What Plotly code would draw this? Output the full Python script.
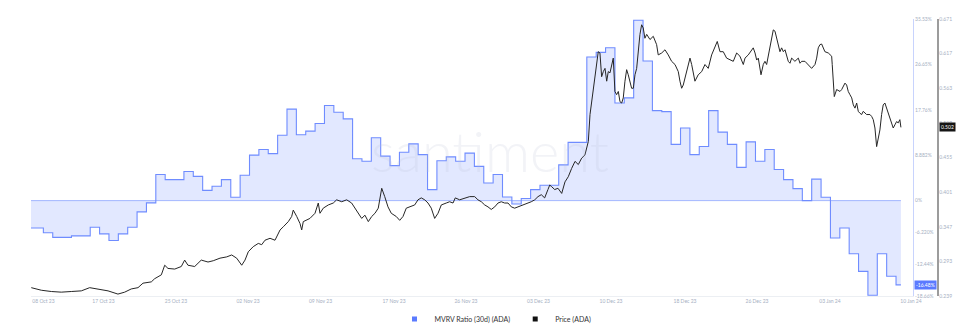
import pandas as pd
import plotly.graph_objects as go

# ---------------- data ----------------
START = pd.Timestamp("2023-10-10")          # day offset 0
MVRV_START = "2023-10-09"                    # first daily MVRV value

mvrv_values = [-5.35, -5.35, -6.3, -7.2, -7.2, -6.9, -6.9, -5.2, -6.5, -7.8, -6.5, -5.2, -2.2, -0.45,
               5.1, 4.1, 4.1, 5.7, 4.75, 2.0, 2.8, 4.1, 0.65, 4.95, 8.9, 10.0, 9.2, 12.8, 17.9, 12.9,
               13.6, 15.1, 18.6, 17.3, 16.0, 8.2, 7.7, 12.3, 8.7, 6.85, 9.45, 11.1, 9.0, 2.15, 7.8,
               8.55, 7.7, 9.3, 6.7, 3.45, 5.1, 0.7, -0.65, 0.4, 2.15, 3.0, 3.0, 7.0, 11.4, 11.4, 28.1,
               29.0, 29.9, 19.1, 20.1, 35.3, 27.3, 17.6, 17.4, 11.0, 14.2, 9.0, 10.6, 17.6, 13.4, 11.0,
               6.5, 11.5, 7.7, 10.0, 6.1, 4.1, 2.35, 0.0, 4.2, 0.65, -7.3, -5.35, -10.4, -13.85, -18.5,
               -10.4, -14.8, -16.48]

price_days = [
    -0.29, 0.78, 1.85, 2.91, 3.98, 5.05, 5.94, 6.83, 7.90, 8.96, 9.68, 10.38, 11.10, 11.63, 12.52,
    12.88, 13.59, 13.95, 14.30, 15.02, 15.72, 16.08, 16.43, 17.15, 17.85, 18.57,
    19.13, 19.85, 20.57, 21.10, 21.63, 22.17, 22.52, 22.87, 23.40, 23.94, 24.30, 24.65, 25.19, 25.72,
    26.26, 26.61, 27.14, 27.50, 27.67, 28.04, 28.39, 28.57, 28.74, 29.45, 29.99, 30.34, 30.52, 30.87,
    31.41, 31.94, 32.30, 32.84, 33.37, 33.90, 34.26, 34.61, 34.97, 35.32, 35.68, 36.04, 36.39, 36.74,
    37.11, 37.43,
    37.78, 38.13, 38.66, 39.03, 39.38, 39.73, 40.10, 40.63, 40.98, 41.33, 41.70, 42.05, 42.40, 42.76,
    43.12, 43.47, 44.00, 44.36, 44.72, 44.96, 45.43, 45.96, 46.50, 47.03, 47.38, 47.74, 48.10, 48.45,
    48.80, 49.17, 49.52, 49.87, 50.23, 50.59, 50.94, 51.30, 51.65, 52.01, 52.37, 52.72, 53.07, 53.44,
    53.79, 54.14, 54.50, 54.85, 55.04, 55.21, 55.57, 55.92, 56.32,
    56.67, 57.02, 57.38, 57.74, 58.09, 58.45, 58.80, 59.16, 59.34, 59.52, 59.69, 59.87, 60.05, 60.22,
    60.40, 60.58, 60.76, 60.94, 61.12, 61.29, 61.47, 61.65, 61.82, 62.00, 62.18, 62.36, 62.54, 62.72,
    62.89, 63.07, 63.25, 63.42, 63.60, 63.78, 63.96, 64.14, 64.32, 64.49, 64.67, 64.85, 65.02, 65.20,
    65.39, 65.74, 66.09, 66.45, 66.62, 66.99, 67.34, 67.69, 68.05, 68.41, 68.76, 68.94, 69.12, 69.29,
    69.66, 70.01, 70.19, 70.54, 70.89, 71.26, 71.61, 71.96, 72.32, 72.68, 72.92, 73.21, 73.56, 73.92,
    74.27, 74.63, 74.99, 75.34,
    75.70, 75.88, 76.23, 76.59, 76.76, 76.95, 77.13, 77.30, 77.48, 77.59, 77.83, 78.01, 78.19, 78.36,
    78.55, 78.73, 78.90, 79.08, 79.26, 79.43, 79.61, 79.79, 79.97, 80.15, 80.33, 80.50, 80.68, 80.86,
    81.21, 81.57, 81.75, 81.93, 82.28, 82.63, 82.99, 83.35, 83.53, 83.70, 83.88, 84.06, 84.23, 84.41,
    84.77, 85.13, 85.19, 85.30, 85.41, 85.66, 86.02, 86.20, 86.55, 86.73, 86.90, 87.08, 87.27, 87.44,
    87.62, 87.80, 87.97, 88.15, 88.33, 88.50, 88.86, 89.22, 89.40, 89.57, 89.75, 89.93, 90.10, 90.28,
    90.46, 90.63, 90.81, 90.99, 91.16, 91.35, 91.53, 91.70, 91.88, 92.06, 92.23, 92.41, 92.52]

price_values = [
    0.252, 0.248, 0.246, 0.245, 0.246, 0.247, 0.252, 0.250, 0.247, 0.242, 0.245, 0.250, 0.252, 0.259,
    0.261, 0.266, 0.272, 0.287, 0.282, 0.281, 0.285, 0.295, 0.287, 0.285, 0.295, 0.292,
    0.294, 0.298, 0.300, 0.303, 0.298, 0.287, 0.295, 0.308, 0.316, 0.321, 0.319, 0.326, 0.329, 0.326,
    0.342, 0.347, 0.355, 0.363, 0.373, 0.363, 0.352, 0.342, 0.355, 0.360, 0.368, 0.384, 0.368, 0.376,
    0.381, 0.384, 0.389, 0.386, 0.389, 0.384, 0.376, 0.368, 0.360, 0.365, 0.355, 0.363, 0.368, 0.376,
    0.407, 0.394,
    0.378, 0.368, 0.363, 0.357, 0.363, 0.376, 0.378, 0.381, 0.389, 0.392, 0.389, 0.384, 0.376, 0.360,
    0.368, 0.381, 0.384, 0.386, 0.384, 0.392, 0.389, 0.392, 0.394, 0.394, 0.389, 0.386, 0.381, 0.378,
    0.374, 0.378, 0.384, 0.386, 0.384, 0.384, 0.378, 0.376, 0.378, 0.380, 0.381, 0.384, 0.386, 0.389,
    0.394, 0.397, 0.392, 0.405, 0.412, 0.410, 0.405, 0.407, 0.399,
    0.417, 0.425, 0.438, 0.449, 0.444, 0.454, 0.459, 0.480, 0.522, 0.542, 0.553, 0.574, 0.600, 0.620,
    0.618, 0.581, 0.589, 0.594, 0.574, 0.589, 0.587, 0.600, 0.610, 0.558, 0.553, 0.558, 0.542, 0.540,
    0.548, 0.574, 0.592, 0.584, 0.574, 0.563, 0.563, 0.584, 0.594, 0.620, 0.647, 0.662, 0.657, 0.641,
    0.647, 0.639, 0.644, 0.631, 0.615, 0.618, 0.623, 0.615, 0.605, 0.600, 0.589, 0.574, 0.563, 0.568,
    0.589, 0.610, 0.600, 0.574, 0.584, 0.589, 0.600, 0.594, 0.615, 0.626, 0.636, 0.620, 0.620, 0.610,
    0.607, 0.605, 0.618, 0.613,
    0.600, 0.610, 0.615, 0.623, 0.626, 0.618, 0.607, 0.610, 0.594, 0.584, 0.600, 0.605, 0.600, 0.613,
    0.626, 0.636, 0.654, 0.652, 0.641, 0.626, 0.620, 0.626, 0.620, 0.623, 0.615, 0.605, 0.602, 0.610,
    0.605, 0.610, 0.602, 0.605, 0.605, 0.600, 0.594, 0.600, 0.610, 0.626, 0.631, 0.632, 0.626, 0.620,
    0.618, 0.613, 0.600, 0.574, 0.550, 0.561, 0.558, 0.561, 0.571, 0.568, 0.558, 0.553, 0.548, 0.537,
    0.532, 0.540, 0.527, 0.524, 0.522, 0.527, 0.522, 0.522, 0.519, 0.514, 0.501, 0.472, 0.485, 0.498,
    0.522, 0.537, 0.540, 0.532, 0.527, 0.519, 0.511, 0.501, 0.506, 0.511, 0.509, 0.514, 0.502]

x_tick_days = [1.01, 7.42, 15.15, 22.84, 30.58, 38.42, 46.10, 53.84, 61.58, 69.48, 77.16, 84.95, 93.60]
x_tick_text = ["08 Oct 23", "17 Oct 23", "25 Oct 23", "02 Nov 23", "09 Nov 23", "17 Nov 23",
               "26 Nov 23", "03 Dec 23", "10 Dec 23", "18 Dec 23", "26 Dec 23", "03 Jan 24", "10 Jan 24"]

mvrv_ticks = [-18.66, -12.44, -6.22, 0, 8.882, 17.76, 26.65, 35.53]
mvrv_tick_text = ["-18.66%", "-12.44%", "-6.220%", "0%", "8.882%", "17.76%", "26.65%", "35.53%"]
price_ticks = [0.239, 0.293, 0.347, 0.401, 0.455, 0.509, 0.563, 0.617, 0.671]

MVRV_NAME = "MVRV Ratio (30d) (ADA)"
PRICE_NAME = "Price (ADA)"


def to_dt(days):
    return [START + pd.Timedelta(days=d) for d in days]


price_x = to_dt(price_days)
mvrv_x = list(pd.date_range(MVRV_START, periods=len(mvrv_values), freq="D")) + [price_x[-1]]
mvrv_y = mvrv_values + [mvrv_values[-1]]

BLUE = "#6f8cff"
LABEL = "#a6afc2"
FONT = "Lato"

fig = go.Figure()
fig.add_trace(go.Scatter(
    x=mvrv_x, y=mvrv_y, mode="lines", yaxis="y",
    line=dict(shape="hv", color=BLUE, width=1.1),
    fill="tozeroy", fillcolor="rgba(111,140,255,0.2)",
    showlegend=False, name=MVRV_NAME))
fig.add_trace(go.Scatter(
    x=price_x, y=price_values, mode="lines", yaxis="y2",
    line=dict(color="#262626", width=1),
    showlegend=False, name=PRICE_NAME))

# legend entries (square swatches)
fig.add_trace(go.Scatter(x=[None], y=[None], mode="markers", name=MVRV_NAME,
                         marker=dict(symbol="square", size=5, color="#5b7bff")))
fig.add_trace(go.Scatter(x=[None], y=[None], mode="markers", name=PRICE_NAME,
                         marker=dict(symbol="square", size=5, color="#111111")))

x_end_domain = 0.9494
fig.update_layout(
    width=980, height=336,
    margin=dict(l=31, r=20, t=19, b=40, autoexpand=False),
    paper_bgcolor="white", plot_bgcolor="white",
    font=dict(family=FONT, color="#333"),
    xaxis=dict(type="date", domain=[0, x_end_domain],
               range=to_dt([-0.32, 93.81]),
               showgrid=False, zeroline=False, showline=True, linecolor="#eceff3", linewidth=1,
               tickvals=to_dt(x_tick_days), ticktext=x_tick_text, ticks="",
               tickfont=dict(size=5, color=LABEL, family=FONT)),
    yaxis=dict(range=[-18.66, 35.53], side="right", anchor="x",
               showgrid=False, zeroline=False, showline=True, linecolor="#c8d3fd", linewidth=1,
               tickvals=mvrv_ticks, ticktext=mvrv_tick_text, ticks="",
               tickfont=dict(size=5, color=LABEL, family=FONT)),
    yaxis2=dict(range=[price_ticks[0], price_ticks[-1]], overlaying="y", side="right",
                anchor="free", position=0.9758,
                showgrid=False, zeroline=False, showline=True, linecolor="#9c9c9c", linewidth=1.5,
                tickvals=price_ticks, ticktext=[f"{v:.3f}" for v in price_ticks], ticks="",
                tickfont=dict(size=5, color=LABEL, family=FONT)),
    legend=dict(orientation="h", x=0.5, xanchor="center", y=-0.083, yanchor="middle",
                font=dict(size=7, color="#333", family=FONT), itemwidth=30,
                tracegroupgap=0, bgcolor="rgba(0,0,0,0)"),
    shapes=[dict(type="line", xref="x", yref="y", x0=mvrv_x[0], x1=mvrv_x[-1], y0=0, y1=0,
                 line=dict(color="#a9bbff", width=1), layer="below")],
    annotations=[
        dict(text="santiment", xref="paper", yref="paper", x=0.494, y=0.527,
             showarrow=False, font=dict(size=56, color="rgba(190,197,215,0.2)", family=FONT, weight=300)),
        dict(text=f"{mvrv_values[-1]:.2f}%", xref="paper", yref="y", x=x_end_domain, y=mvrv_values[-1],
             xanchor="left", yanchor="middle", xshift=1, showarrow=False, bgcolor="#5a7aff",
             borderpad=1, font=dict(size=5, color="white", family=FONT)),
        dict(text=f"{price_values[-1]:.3f}", xref="paper", yref="y2", x=0.9758, y=price_values[-1],
             xanchor="left", yanchor="middle", xshift=1, showarrow=False, bgcolor="#151515",
             borderpad=1, font=dict(size=5, color="white", family=FONT)),
    ],
)

fig.write_html("out.html")
